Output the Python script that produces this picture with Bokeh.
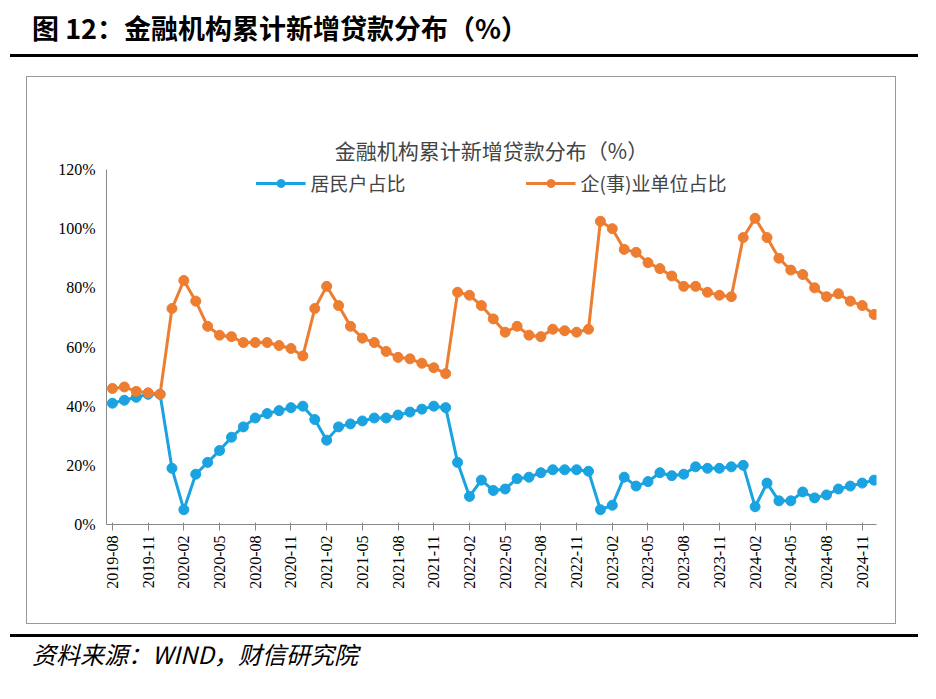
import math
from bokeh.plotting import figure
from bokeh.models import Div, Legend, LegendItem, FixedTicker, Range1d, CustomJSTickFormatter
from bokeh.layouts import column
from bokeh.embed import file_html
from bokeh.resources import INLINE

household = [41,42,43,44,44, 19,5,17,21,25,29.5,33,36,37.5,38.5,39.5,40,
             35.5,28.5,33,34,35,36,36,37,38,39,40,39.5,
             21,9.5,15,11.5,12,15.5,16,17.5,18.5,18.5,18.5,18,
             5,6.5,16,13,14.5,17.5,16.5,17,19.5,19,19,19.5,
             20,6,14,8,8,11,9,10,12,13,14,15]
corp = [46,46.5,45,44.5,44, 73,82.5,75.5,67,64,63.5,61.5,61.5,61.5,60.5,59.5,57,
        73,80.5,74,67,63,61.5,58.5,56.5,56,54.5,53,51,
        78.5,77.5,74,69.5,65,67,64,63.5,66,65.5,65,66,
        102.5,100,93,92,88.5,86.5,84,80.5,80.5,78.5,77.5,77,
        97,103.5,97,90,86,84.5,80,77,78,75.5,74,71]
months = []
y, m = 2019, 8
for _ in range(len(corp)):
    months.append(f"{y}-{m:02d}")
    m += 1
    if m > 12:
        y += 1; m = 1
x = list(range(len(corp)))

header = Div(text="图 12：金融机构累计新增贷款分布（%）", width=910, height=52,
             styles={"font-family": "Noto Sans CJK SC", "font-weight": "bold", "font-size": "27px",
                     "color": "#000", "padding-left": "22px", "padding-top": "4px",
                     "border-bottom": "3px solid #000", "width": "908px", "margin-left": "10px"})

p = figure(width=870, height=548, output_backend="svg", toolbar_location=None,
           x_range=Range1d(-0.5, 64.2), y_range=Range1d(0, 120),
           min_border_left=79, min_border_right=21, min_border_bottom=101, min_border_top=92)
p.styles = {"border": "1px solid #999", "margin-left": "26px", "margin-top": "14px"}
p.title.text = "金融机构累计新增贷款分布（%）"
p.title.align = "center"
p.title.text_font = "Noto Sans CJK SC"
p.title.text_font_size = "21px"
p.title.text_font_style = "normal"
p.title.offset = 0
p.outline_line_color = None
p.xgrid.visible = False
p.ygrid.visible = False

r1 = p.line(x, household, line_width=3, color="#1AA3E0")
c1 = p.scatter(x, household, size=10, color="#1AA3E0")
r2 = p.line(x, corp, line_width=3, color="#ED7D31")
c2 = p.scatter(x, corp, size=10, color="#ED7D31")

legend = Legend(items=[LegendItem(label="居民户占比", renderers=[r1, c1]),
                       LegendItem(label="企(事)业单位占比", renderers=[r2, c2])],
                orientation="horizontal", spacing=120, glyph_width=50, location="top_center",
                label_text_font="Noto Sans CJK SC", label_text_font_size="19px",
                border_line_color=None, background_fill_alpha=0, margin=0, padding=0)
p.add_layout(legend)

p.yaxis.ticker = FixedTicker(ticks=[0,20,40,60,80,100,120])
p.yaxis.formatter = CustomJSTickFormatter(code="return tick + '%';")
p.xaxis.ticker = FixedTicker(ticks=list(range(0, 65, 3)))
p.xaxis.major_label_overrides = {i: months[i] for i in range(0, 65, 3)}
p.xaxis.major_label_orientation = math.pi / 2
for ax in (p.xaxis, p.yaxis):
    ax.major_label_text_font = "Liberation Serif"
    ax.major_label_text_font_size = "16px"
    ax.major_label_text_color = "#000"
    ax.axis_line_color = "#888"
    ax.major_tick_line_color = "#888"
    ax.minor_tick_line_color = None
p.yaxis.major_tick_line_color = None

footer = Div(text="<i>资料来源：WIND，财信研究院</i>", width=910, height=50,
             styles={"font-family": "Noto Sans CJK SC", "font-size": "24px", "color": "#000",
                     "border-top": "3px solid #000", "width": "908px", "margin-left": "10px",
                     "padding-left": "22px", "margin-top": "10px"})

layout = column(header, p, footer, spacing=0)
open("out.html", "w").write(file_html(layout, INLINE))
